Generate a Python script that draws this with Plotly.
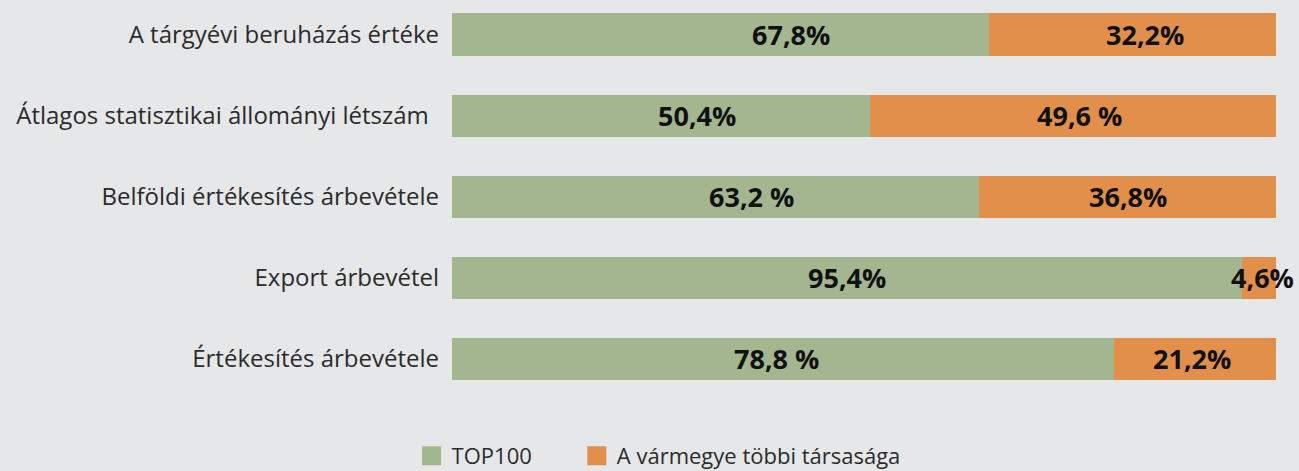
import plotly.graph_objects as go

# categories listed bottom -> top
categories = ["Értékesítés árbevétele", "Export árbevétel", "Belföldi értékesítés árbevétele",
              "Átlagos statisztikai állományi létszám\u00a0\u2009", "A tárgyévi beruházás értéke"]
# segment lengths as drawn in the picture (share of the full bar, %)
top100 = [80.3, 95.9, 64.0, 50.7, 65.2]
others = [19.7, 4.1, 36.0, 49.3, 34.8]
# labels as printed on the picture
top100_labels = ["78,8 %", "95,4%", "63,2 %", "50,4%", "67,8%"]
others_labels = ["21,2%", "4,6%", "36,8%", "49,6 %", "32,2%"]
series_names = ["TOP100", "A vármegye többi társasága"]

# horizontal nudges of the printed labels (px), as placed in the original
top100_label_dx = [-6, 0, 36, 36, 70]
others_label_dx = [-3, 3, 0, 7, 12]

GREEN = "#a4b68f"
ORANGE = "#e18f4b"
BG = "#e6e7e9"
TXT = "#2b2b2b"
FONT = "Open Sans"

fig = go.Figure()
fig.add_trace(go.Bar(y=categories, x=top100, orientation="h", name=series_names[0], showlegend=False,
                     marker=dict(color=GREEN, line=dict(width=0)), width=0.52, hoverinfo="skip"))
fig.add_trace(go.Bar(y=categories, x=others, orientation="h", name=series_names[1], showlegend=False,
                     marker=dict(color=ORANGE, line=dict(width=0)), width=0.52, hoverinfo="skip"))
# legend entries with larger square swatches
fig.add_trace(go.Scatter(x=[None], y=[None], mode="markers", name=series_names[0] + "\u00a0" * 7,
                         marker=dict(symbol="square", size=16, color=GREEN, line=dict(color=GREEN, width=3))))
fig.add_trace(go.Scatter(x=[None], y=[None], mode="markers", name=series_names[1],
                         marker=dict(symbol="square", size=16, color=ORANGE, line=dict(color=ORANGE, width=3))))

annotations = []
lab_font = dict(size=27, color="#111111", family=FONT, weight="bold")
for i, c in enumerate(categories):
    annotations.append(dict(x=top100[i] / 2, y=c, text=top100_labels[i], showarrow=False,
                            xref="x", yref="y", font=lab_font, xshift=top100_label_dx[i]))
    annotations.append(dict(x=top100[i] + others[i] / 2, y=c, text=others_labels[i], showarrow=False,
                            xref="x", yref="y", font=lab_font, xshift=others_label_dx[i]))

fig.update_layout(
    barmode="stack",
    width=1299, height=471,
    paper_bgcolor=BG, plot_bgcolor=BG,
    margin=dict(l=452, r=23, t=0, b=71),
    font=dict(family=FONT, color=TXT, size=22),
    xaxis=dict(range=[0, 100], showgrid=False, zeroline=False, showticklabels=False, fixedrange=True),
    yaxis=dict(range=[-0.506, 4.425], showgrid=False, zeroline=False, ticks="", ticklabelstandoff=12,
               tickfont=dict(size=24, color=TXT, family=FONT), fixedrange=True),
    legend=dict(orientation="h", xref="container", yref="container", x=0.507, xanchor="center",
                y=0.032, yanchor="middle", font=dict(size=22, color=TXT, family=FONT), traceorder="normal",
                itemwidth=30),
    annotations=annotations,
    showlegend=True,
)

fig.write_html("out.html", config={"displayModeBar": False},
               post_script="document.body.style.margin='0';document.body.style.background='%s';" % BG)
